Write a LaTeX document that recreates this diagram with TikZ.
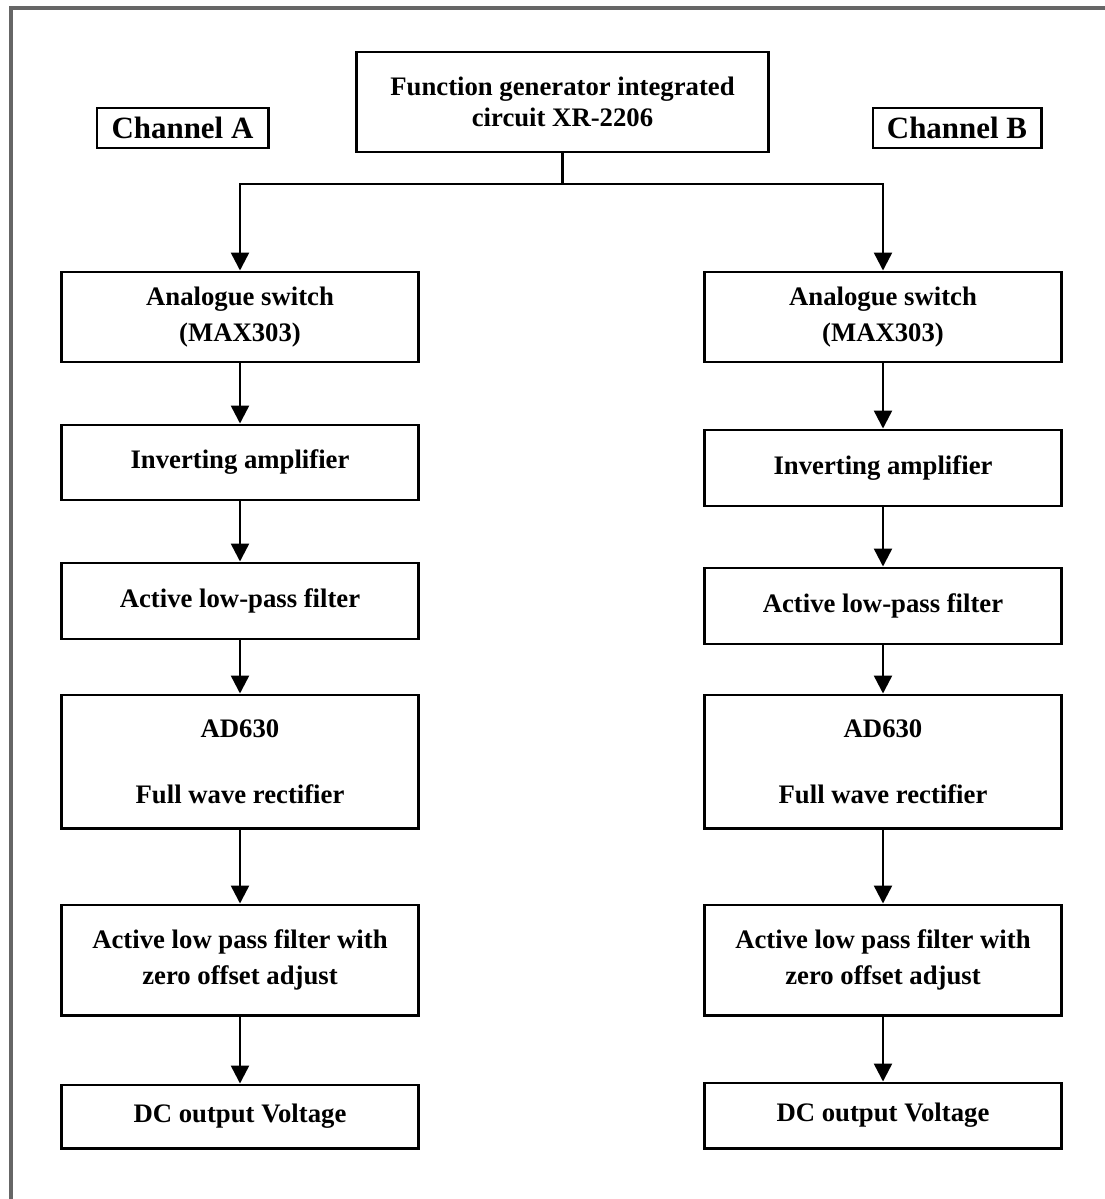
\documentclass[tikz,border=0pt]{standalone}
\usepackage{fontspec}
\setmainfont{Liberation Serif}
\usetikzlibrary{arrows.meta}
\begin{document}
\begin{tikzpicture}[x=0.025cm,y=-0.025cm,
    blok/.style={draw, line width=2.1pt, minimum width=8.925cm, align=center,
      inner sep=0pt, font=\bfseries\fontsize{19}{25.5}\selectfont},
    kanal/.style={draw, line width=2.1pt, minimum height=1cm, inner sep=0pt,
      font=\bfseries\fontsize{22}{26}\selectfont},
    pfeil/.style={line width=1.7pt, -{Triangle[width=0.45cm,length=0.45cm]}}]
    \useasboundingbox (0,0) rectangle (1105,1199);

    % outer frame (cut at right and bottom)
    \draw[line width=2.4pt, black!60] (1130,8) -- (11,8) -- (11,1230);

    % generator and channel labels
    \node[blok, minimum width=10.275cm, minimum height=2.5cm,
      font=\bfseries\fontsize{19}{21.5}\selectfont] (gen) at (562.5,102)
      {Function generator integrated\\circuit XR-2206};
    \node[kanal, minimum width=4.275cm] (chA) at (182.5,128) {Channel A};
    \node[kanal, minimum width=4.2cm] (chB) at (957,128) {Channel B};

    % channel A
    \node[blok, minimum height=2.25cm] (sa1) at (240,317) {Analogue switch\\(MAX303)};
    \node[blok, minimum height=1.875cm] (ia1) at (240,462.5) {Inverting amplifier};
    \node[blok, minimum height=1.9cm] (lp1) at (240,601) {Active low-pass filter};
    \node[blok, minimum height=3.325cm] (ad1) at (240,761.5) {AD630\\[0.75cm]Full wave rectifier};
    \node[blok, minimum height=2.75cm] (zo1) at (240,960) {Active low pass filter with\\zero offset adjust};
    \node[blok, minimum height=1.575cm] (dc1) at (240,1116.5) {DC output Voltage};

    % channel B
    \node[blok, minimum height=2.25cm] (sa2) at (883,317) {Analogue switch\\(MAX303)};
    \node[blok, minimum height=1.9cm] (ia2) at (883,468) {Inverting amplifier};
    \node[blok, minimum height=1.9cm] (lp2) at (883,606) {Active low-pass filter};
    \node[blok, minimum height=3.325cm] (ad2) at (883,761.5) {AD630\\[0.75cm]Full wave rectifier};
    \node[blok, minimum height=2.75cm] (zo2) at (883,960) {Active low pass filter with\\zero offset adjust};
    \node[blok, minimum height=1.625cm] (dc2) at (883,1115.5) {DC output Voltage};

    % split to both channels
    \coordinate (split) at (562.5,184);
    \draw[line width=1.7pt] (gen.south) -- (split);
    \draw[pfeil] (split) -| (sa1.north);
    \draw[pfeil] (split) -| (sa2.north);

    \foreach \a/\b in {sa1/ia1,ia1/lp1,lp1/ad1,ad1/zo1,zo1/dc1,
                       sa2/ia2,ia2/lp2,lp2/ad2,ad2/zo2,zo2/dc2}
      \draw[pfeil] (\a.south) -- (\b.north);

\end{tikzpicture}
\end{document}
